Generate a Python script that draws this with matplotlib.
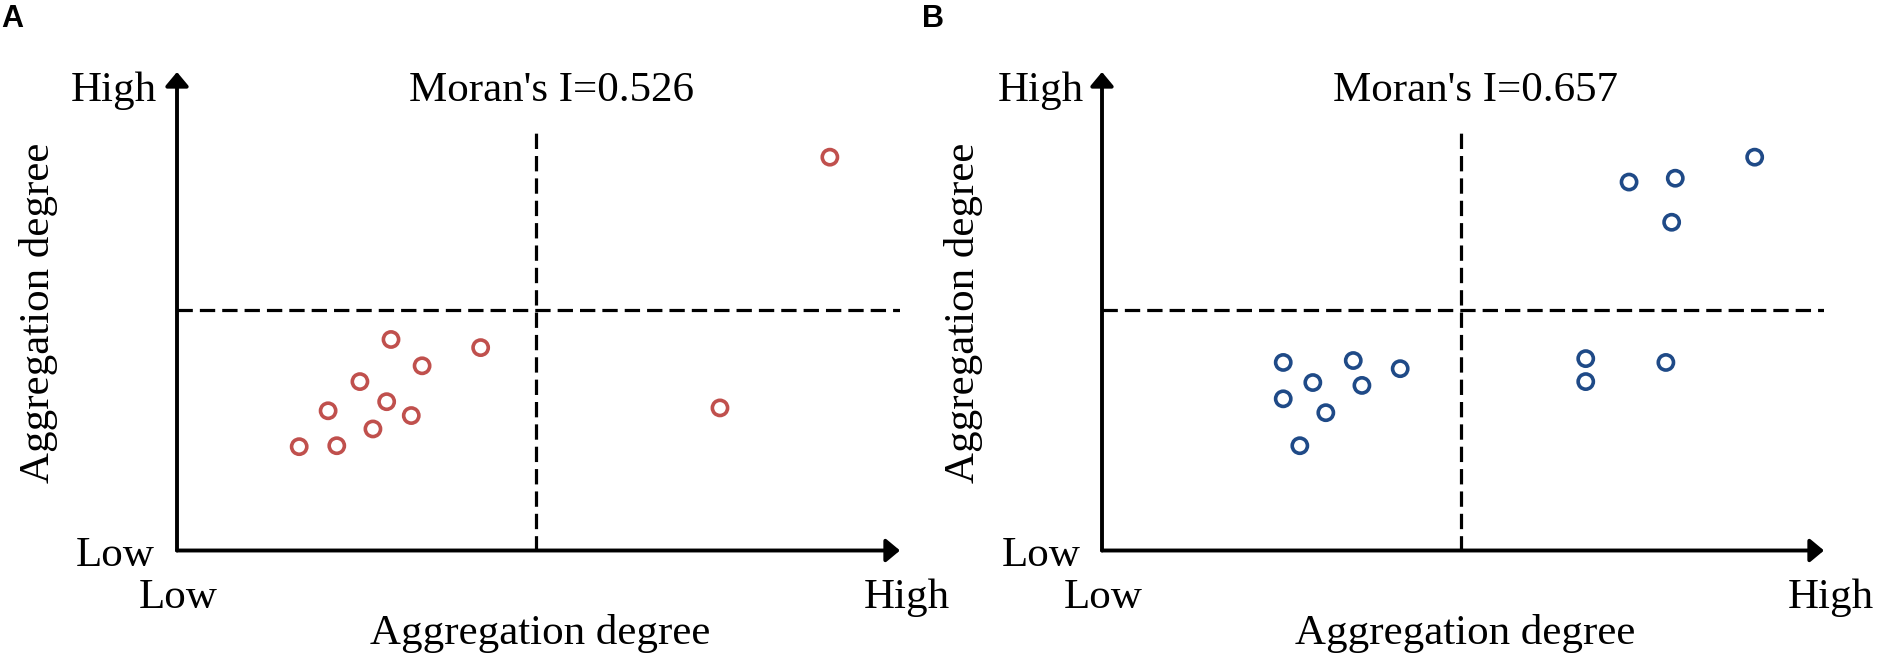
import matplotlib.pyplot as plt

plt.rcParams.update({
    "font.family": ["Liberation Serif", "DejaVu Serif"],
    "font.size": 31,
})

RED = "#C0504D"
BLUE = "#1F4A87"

# panel A points (normalised aggregation degree, 0..1 on each axis)
a_x = [0.903, 0.296, 0.420, 0.339, 0.253, 0.290, 0.209, 0.324, 0.271, 0.169, 0.221, 0.751]
a_y = [0.822, 0.441, 0.424, 0.386, 0.353, 0.311, 0.292, 0.282, 0.254, 0.217, 0.219, 0.298]
a_title = "Moran's I=0.526"

# panel B points
b_x = [0.904, 0.730, 0.794, 0.789, 0.670, 0.670, 0.781, 0.251, 0.348, 0.413, 0.292, 0.360, 0.251, 0.310, 0.274]
b_y = [0.822, 0.770, 0.778, 0.686, 0.401, 0.353, 0.393, 0.393, 0.397, 0.380, 0.351, 0.345, 0.317, 0.288, 0.219]
b_title = "Moran's I=0.657"

MID_X = 0.497
MID_Y = 0.503


def draw_panel(ax, xs, ys, color, title, high_x=-0.027, low_x=-0.031):
    ax.set_xlim(0, 1)
    ax.set_ylim(0, 1)
    ax.axis("off")

    arrow = dict(arrowstyle="-|>,head_length=0.6,head_width=0.5", lw=2.8,
                 color="black", mutation_scale=14, shrinkA=0, shrinkB=0)
    ax.annotate("", xy=(1, 0), xytext=(0, 0), arrowprops=arrow, annotation_clip=False)
    ax.annotate("", xy=(0, 1), xytext=(0, 0), arrowprops=arrow, annotation_clip=False)

    ln, = ax.plot([MID_X, MID_X], [0, 0.874], color="black", lw=2.3)
    ln.set_dashes([4.8, 2.2])
    ln2, = ax.plot([0, 1], [MID_Y, MID_Y], color="black", lw=2.3)
    ln2.set_dashes([4.8, 2.2])

    ax.scatter(xs, ys, s=120, facecolors="none", edgecolors=color, linewidths=2.6,
               zorder=3, clip_on=False)

    ax.text(0.518, 0.940, title, ha="center", va="baseline")
    ax.text(high_x, 0.940, "High", ha="right", va="baseline")
    ax.text(low_x, -0.032, "Low", ha="right", va="baseline")
    ax.text(0.002, -0.12, "Low", ha="center", va="baseline")
    ax.text(1.01, -0.12, "High", ha="center", va="baseline")
    ax.text(0.503, -0.195, "Aggregation degree", ha="center", va="baseline")
    ax.text(-0.192, 0.496, "Aggregation degree", ha="center", va="center", rotation=90)


fig = plt.figure(figsize=(18.83, 6.54), dpi=100)
ax1 = fig.add_axes([177 / 1883, 103.5 / 654, 723 / 1883, 478.5 / 654])
ax2 = fig.add_axes([1102 / 1883, 103.5 / 654, 722 / 1883, 478.5 / 654])

draw_panel(ax1, a_x, a_y, RED, a_title)
draw_panel(ax2, b_x, b_y, BLUE, b_title, high_x=-0.025, low_x=-0.030)

fig.text(1 / 1883, 1 - 19 / 654, "A", ha="left", va="center", fontsize=22,
         fontweight="bold", family=["Liberation Sans", "DejaVu Sans"])
fig.text(922 / 1883, 1 - 19 / 654, "B", ha="left", va="center", fontsize=22,
         fontweight="bold", family=["Liberation Sans", "DejaVu Sans"])

fig.savefig("out.png", dpi=100)
